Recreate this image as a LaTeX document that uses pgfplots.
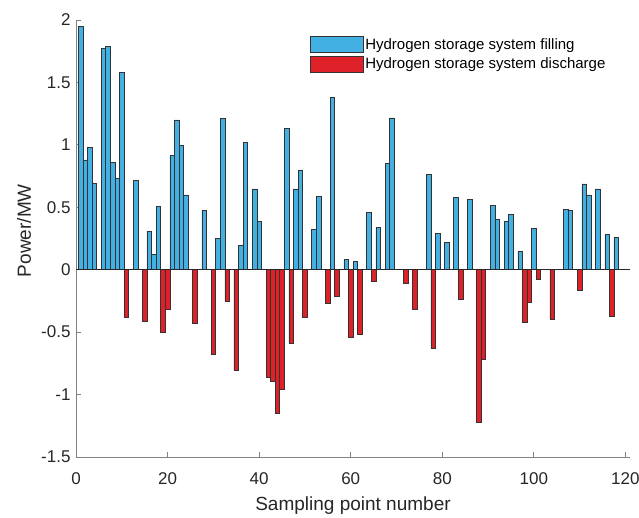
\documentclass[border=0pt]{standalone}
\usepackage{pgfplots}
\pgfplotsset{compat=1.18}
\usepackage{fontspec}
\setmainfont{Liberation Sans}
\definecolor{fillblue}{RGB}{66,176,226}
\definecolor{dischred}{RGB}{222,32,40}
\definecolor{axgray}{RGB}{130,130,130}

\begin{document}
\begin{tikzpicture}
\useasboundingbox (-76pt,-60pt) rectangle (563pt,457pt);
\begin{axis}[
    at={(0pt,0pt)}, anchor=south west,
    scale only axis, width=554pt, height=437pt,
    xmin=0, xmax=121, ymin=-1.5, ymax=2,
    enlargelimits=false,
    xtick={0,20,...,120},
    xticklabels={0,20,40,60,80,100,120},
    ytick={-1.5,-1,-0.5,0,0.5,1,1.5,2},
    yticklabels={-1.5,-1,-0.5,0,0.5,1,1.5,2},
    axis x line*=bottom, axis y line*=left,
    axis line style={-, draw=axgray, line width=1pt},
    tick align=inside, major tick length=5pt,
    tick style={draw=axgray, line width=0.8pt},
    ticklabel style={font=\fontsize{17}{20}\selectfont, text=black!85},
    xticklabel style={yshift=-12pt},
    yticklabel style={xshift=-2pt},
    xlabel={Sampling point number},
    ylabel={Power/MW},
    every axis x label/.style={at={(axis description cs:0.5,-0.112)}, anchor=center,
        font=\fontsize{19}{22}\selectfont, text=black!85},
    every axis y label/.style={at={(axis description cs:-0.0939,0.518)}, rotate=90, anchor=center,
        font=\fontsize{19}{22}\selectfont, text=black!85},
    bar width=1,
    legend style={at={(0.4224,0.963)}, anchor=north west, draw=none, fill=none,
        font=\fontsize{15}{17}\selectfont, inner sep=0pt, row sep=3pt,
        nodes={inner sep=1.5pt}},
    legend cell align=left,
    legend image code/.code={\draw[#1,/tikz/.cd] (0pt,-8pt) rectangle (53pt,8pt);},
]
\addplot[ybar, bar shift=0pt, fill=fillblue, draw=black!80, line width=0.6pt] coordinates {
    (1,1.95) (2,0.88) (3,0.98) (4,0.69) (6,1.77) (7,1.79) (8,0.86) (9,0.73) (10,1.58)
    (13,0.715) (16,0.31) (17,0.12) (18,0.51) (21,0.915) (22,1.2) (23,0.995) (24,0.60)
    (28,0.477) (31,0.25) (32,1.21) (36,0.197) (37,1.02) (39,0.648) (40,0.384)
    (46,1.13) (48,0.648) (49,0.80) (52,0.32) (53,0.59) (56,1.38) (59,0.085) (61,0.067)
    (64,0.46) (66,0.336) (68,0.853) (69,1.216) (77,0.765) (79,0.288) (81,0.22) (83,0.58)
    (86,0.565) (91,0.515) (92,0.405) (94,0.384) (95,0.445) (97,0.147) (100,0.33)
    (107,0.485) (108,0.478) (111,0.688) (112,0.60) (114,0.648) (116,0.283) (118,0.26)
};
\addlegendentry{Hydrogen storage system filling}
\addplot[ybar, bar shift=0pt, fill=dischred, draw=black!80, line width=0.6pt] coordinates {
    (11,-0.38) (15,-0.41) (19,-0.50) (20,-0.315) (26,-0.43) (30,-0.68) (33,-0.25) (35,-0.805)
    (42,-0.86) (43,-0.89) (44,-1.15) (45,-0.955) (47,-0.587) (50,-0.38) (55,-0.27) (57,-0.21)
    (60,-0.54) (62,-0.52) (65,-0.093) (72,-0.11) (74,-0.32) (78,-0.632) (84,-0.235)
    (88,-1.224) (89,-0.715) (98,-0.424) (99,-0.26) (101,-0.075) (104,-0.395) (110,-0.165)
    (117,-0.373)
};
\addlegendentry{Hydrogen storage system discharge}
\draw[black!85, line width=0.9pt] (axis cs:0,0) -- (axis cs:121,0);
\end{axis}
\end{tikzpicture}
\end{document}
